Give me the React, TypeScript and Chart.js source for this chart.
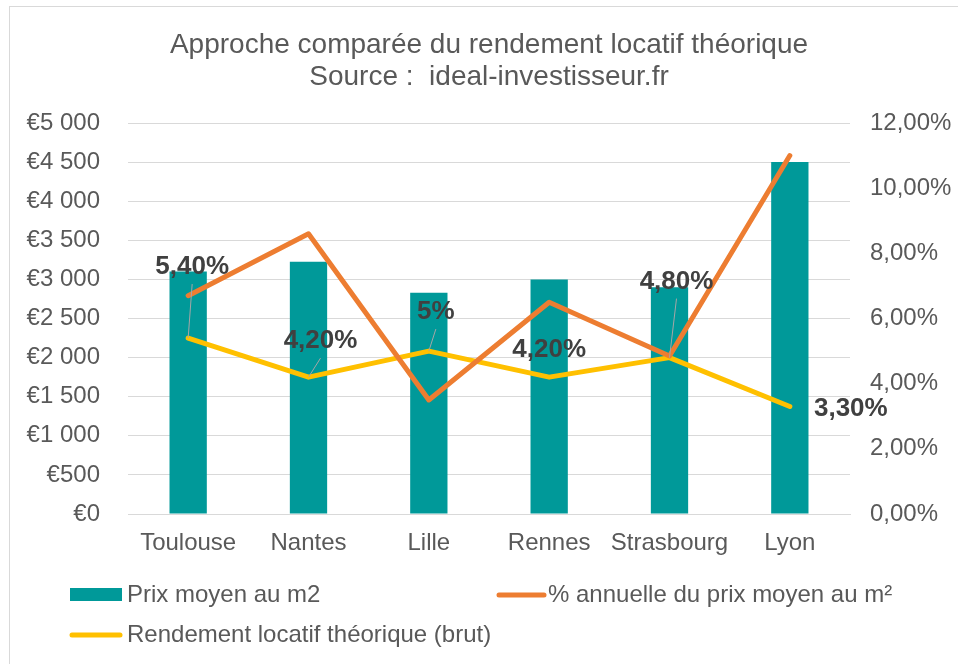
import React, { useEffect, useRef } from 'react';
import { Chart, registerables } from 'chart.js';

Chart.register(...registerables);

const categories = ['Toulouse', 'Nantes', 'Lille', 'Rennes', 'Strasbourg', 'Lyon'];
const prixMoyen = [3100, 3225, 2830, 3000, 2900, 4500];
const variationAnnuelle = [6.7, 8.6, 3.5, 6.5, 4.85, 11.0];
const rendementLocatif = [5.4, 4.2, 5.0, 4.2, 4.8, 3.3];
const seriesNames = ['Prix moyen au m2', '% annuelle du prix moyen au m²', 'Rendement locatif théorique (brut)'];
const titleLines = ['Approche comparée du rendement locatif théorique', 'Source :  ideal-investisseur.fr'];

// label placement offsets (px) relative to each yellow point
const labelOffsets = [[4, -71], [12, -36], [7, -39], [0, -27], [7, -76], [61, 2]];

const FONT = '"Liberation Sans", Arial, sans-serif';
const TEAL = '#009999';
const ORANGE = '#ED7D31';
const YELLOW = '#FFC000';
const TEXT = '#595959';
const GRID = '#D9D9D9';

const fmtPct = (v: number) => (Number.isInteger(v) ? `${v}%` : v.toFixed(2).replace('.', ',') + '%');
const fmtEuro = (v: number) => '€' + String(Math.round(v)).replace(/\B(?=(\d{3})+(?!\d))/g, ' ');

const decorPlugin = {
  id: 'decor',
  beforeDraw(chart: any) {
    const ctx = chart.ctx;
    ctx.save();
    ctx.fillStyle = '#ffffff';
    ctx.fillRect(0, 0, chart.width, chart.height);
    ctx.strokeStyle = GRID;
    ctx.lineWidth = 1;
    ctx.strokeRect(9.5, 6.5, chart.width + 20, chart.height + 20);
    ctx.restore();
  },
  afterDatasetsDraw(chart: any) {
    const ctx = chart.ctx;
    const meta = chart.getDatasetMeta(2);
    ctx.save();
    meta.data.forEach((pt: any, i: number) => {
      const [dx, dy] = labelOffsets[i];
      const lx = pt.x + dx;
      const ly = pt.y + dy;
      if (dy < -30) {
        ctx.strokeStyle = '#A6A6A6';
        ctx.lineWidth = 1;
        ctx.beginPath();
        ctx.moveTo(lx, ly + 17);
        ctx.lineTo(pt.x, pt.y);
        ctx.stroke();
      }
      ctx.font = `bold 26px ${FONT}`;
      ctx.fillStyle = '#404040';
      ctx.textAlign = 'center';
      ctx.textBaseline = 'middle';
      ctx.fillText(fmtPct(rendementLocatif[i]), lx, ly);
    });
    ctx.restore();
  },
  afterDraw(chart: any) {
    const ctx = chart.ctx;
    ctx.save();
    // title
    ctx.fillStyle = TEXT;
    ctx.font = `28px ${FONT}`;
    ctx.textAlign = 'center';
    ctx.textBaseline = 'middle';
    ctx.fillText(titleLines[0], 489, 45);
    ctx.fillText(titleLines[1], 489, 77);
    // legend
    ctx.font = `24px ${FONT}`;
    ctx.textAlign = 'left';
    ctx.fillStyle = TEAL;
    ctx.fillRect(70, 588, 52, 13);
    ctx.lineCap = 'round';
    ctx.lineWidth = 5;
    ctx.strokeStyle = ORANGE;
    ctx.beginPath();
    ctx.moveTo(499, 595);
    ctx.lineTo(544, 595);
    ctx.stroke();
    ctx.strokeStyle = YELLOW;
    ctx.beginPath();
    ctx.moveTo(72, 635);
    ctx.lineTo(120, 635);
    ctx.stroke();
    ctx.fillStyle = TEXT;
    ctx.fillText(seriesNames[0], 127, 595);
    ctx.fillText(seriesNames[1], 548, 595);
    ctx.fillText(seriesNames[2], 127, 635);
    ctx.restore();
  },
};

export default function App() {
  const ref = useRef<HTMLCanvasElement>(null);
  useEffect(() => {
    if (!ref.current) return;
    const chart = new Chart(ref.current, {
      type: 'bar',
      data: {
        labels: categories,
        datasets: [
          {
            type: 'bar',
            label: seriesNames[0],
            data: prixMoyen,
            backgroundColor: TEAL,
            yAxisID: 'y',
            barPercentage: 0.31,
            categoryPercentage: 1,
            order: 3,
          },
          {
            type: 'line',
            label: seriesNames[1],
            data: variationAnnuelle,
            borderColor: ORANGE,
            borderWidth: 5,
            pointRadius: 0,
            tension: 0,
            borderJoinStyle: 'round',
            borderCapStyle: 'round',
            yAxisID: 'y1',
            order: 1,
          },
          {
            type: 'line',
            label: seriesNames[2],
            data: rendementLocatif,
            borderColor: YELLOW,
            borderWidth: 5,
            pointRadius: 0,
            tension: 0,
            borderJoinStyle: 'round',
            borderCapStyle: 'round',
            yAxisID: 'y1',
            order: 2,
          },
        ],
      },
      options: {
        responsive: false,
        animation: false,
        layout: { padding: { top: 123, left: 0, right: 0, bottom: 0 } },
        plugins: {
          legend: { display: false },
          title: { display: false },
          tooltip: { enabled: false },
        },
        scales: {
          x: {
            grid: { display: false, drawTicks: false },
            border: { display: true, color: GRID, width: 1 },
            ticks: { color: TEXT, font: { family: FONT, size: 24 }, padding: 15, maxRotation: 0, autoSkip: false },
            afterFit(scale: any) { scale.height = 150; },
          },
          y: {
            position: 'left',
            min: 0,
            max: 5000,
            grid: { color: GRID, lineWidth: 1, drawTicks: false },
            border: { display: false },
            ticks: {
              stepSize: 500,
              color: TEXT,
              font: { family: FONT, size: 24 },
              padding: 28,
              autoSkip: false,
              callback: (v: any) => fmtEuro(Number(v)),
            },
            afterFit(scale: any) { scale.width = 128; },
          },
          y1: {
            position: 'right',
            min: 0,
            max: 12,
            grid: { display: false, drawTicks: false },
            border: { display: false },
            ticks: {
              stepSize: 2,
              color: TEXT,
              font: { family: FONT, size: 24 },
              padding: 20,
              autoSkip: false,
              callback: (v: any) => Number(v).toFixed(2).replace('.', ',') + '%',
            },
            afterFit(scale: any) { scale.width = 108; },
          },
        },
      },
      plugins: [decorPlugin],
    } as any);
    return () => chart.destroy();
  }, []);
  return (
    <div style={{ position: 'absolute', left: 0, top: 0, width: 958, height: 664 }}>
      <canvas ref={ref} width={958} height={664} />
    </div>
  );
}
